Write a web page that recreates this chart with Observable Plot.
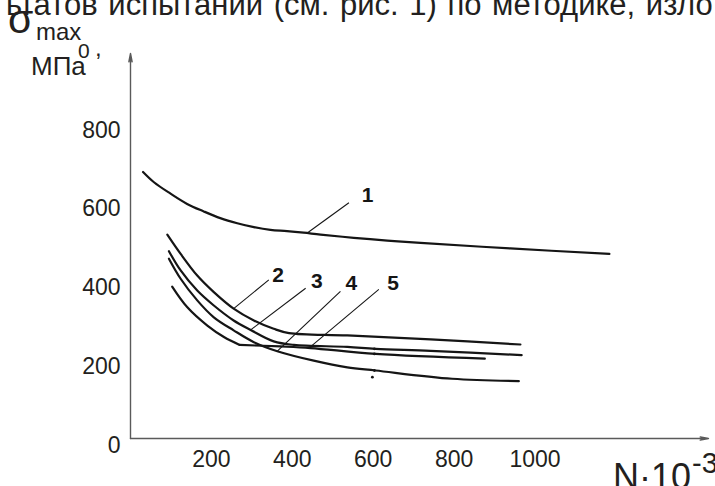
<!DOCTYPE html>
<html>
<head>
<meta charset="utf-8">
<script src="https://cdn.jsdelivr.net/npm/d3@7"></script>
<script src="https://cdn.jsdelivr.net/npm/@observablehq/plot@0.6"></script>
<style>
  body { margin: 0; background: #fff; }
  #chart { width: 715px; height: 486px; overflow: hidden; }
  #chart svg { display: block; }
</style>
</head>
<body>
<div id="chart"></div>
<script>
// Fatigue curves: number of cycles N (×10³) against maximum stress σmax0 (MPa)
const curve1 = [[31,694],[58,668],[99,639],[140,613],[181,594],[222,577],[264,564],[305,554],[346,547],[387,544],[428,540],[470,535],[552,527],[635,520],[717,514],[939,500],[1184,486]];
const curve2 = [[91,535],[124,486],[165,431],[206,389],[255,347],[305,317],[354,296],[392,285],[536,279],[742,269],[964,256]];
const curve3 = [[95,493],[124,444],[165,393],[206,355],[255,317],[297,293],[354,264],[404,255],[536,250],[606,245],[742,240],[967,229]];
const curve4 = [[95,474],[124,423],[165,368],[206,325],[255,292],[305,262],[363,239],[453,215],[536,198],[606,190],[795,169],[960,163]];
// curve 5 falls steeply, then breaks into an almost flat run
const curve5 = [[103,403],[140,351],[190,304],[231,275],[270,255]];
const tail5  = [[270,255],[371,251],[445,247],[606,232],[876,220]];

// test points marked at N = 600
const marks = [[603,245],[603,232],[603,190],[598,173]];

// curve numbers and their leader lines
const labels = [["1",586,634],["2",365,431],["3",461,416],["4",546,411],["5",649,411]];
const leaders = [
  ["1",540,616,437,539],
  ["2",342,420,255,347],
  ["3",433,399,297,293],
  ["4",519,391,363,239],
  ["5",614,396,441,247]
];

const ticksX = [200,400,600,800,1000];
const ticksY = [0,200,400,600,800];
const xDomain = [0,1429];
const yDomain = [17.3,995];

const segments = [
  {seg:"1", pts:curve1}, {seg:"2", pts:curve2}, {seg:"3", pts:curve3},
  {seg:"4", pts:curve4}, {seg:"5", pts:curve5}, {seg:"5b", pts:tail5}
];
const rows = segments.flatMap(d => d.pts.map(([n, s]) => ({seg: d.seg, n, s})));
const markRows = marks.map(([n, s]) => ({n, s}));
const labelRows = labels.map(([text, n, s]) => ({text, n, s}));
const leaderRows = leaders.map(([id, n1, s1, n2, s2]) => ({id, n1, s1, n2, s2}));
const axisLines = [
  {x1: xDomain[0], y1: yDomain[0], x2: xDomain[1], y2: yDomain[0]},
  {x1: xDomain[0], y1: yDomain[0], x2: xDomain[0], y2: yDomain[1]}
];

const font = "Liberation Sans, Arial, sans-serif";

const chart = Plot.plot({
  width: 715,
  height: 486,
  marginLeft: 130,
  marginRight: 7,
  marginTop: 53,
  marginBottom: 48,
  x: {domain: xDomain, label: null},
  y: {domain: yDomain, label: null},
  style: {fontFamily: font, color: "#231f20", background: "#fff", overflow: "hidden"},
  marks: [
    Plot.arrow(axisLines, {x1: "x1", y1: "y1", x2: "x2", y2: "y2", stroke: "#5a5a5a", strokeWidth: 1.4, headLength: 9, headAngle: 22}),
    Plot.axisX(ticksX, {tickSize: 0, tickPadding: 12, fontSize: 23, label: null, tickFormat: d => String(d)}),
    Plot.axisY(ticksY, {tickSize: 0, tickPadding: 10, fontSize: 23, label: null, tickFormat: d => String(d)}),
    Plot.line(rows, {x: "n", y: "s", z: "seg", curve: "catmull-rom", stroke: "#151515", strokeWidth: 2.2}),
    Plot.link(leaderRows, {x1: "n1", y1: "s1", x2: "n2", y2: "s2", stroke: "#151515", strokeWidth: 1.1}),
    Plot.dot(markRows, {x: "n", y: "s", r: 1.4, fill: "#151515"}),
    Plot.text(labelRows, {x: "n", y: "s", text: "text", fontSize: 21, fontWeight: "bold", fill: "#151515"})
  ]
});

document.getElementById("chart").appendChild(chart);

const svg = d3.select(chart);
const addText = (x, y, size, str) =>
  svg.append("text").attr("x", x).attr("y", y).attr("font-size", size)
    .attr("font-family", font).attr("text-anchor", "start")
    .attr("fill", "#231f20").text(str);

// running text of the page above the figure
addText(6, 15, 31, "ьтатов испытаний (см. рис. 1) по методике, изло").attr("word-spacing", 2);

// y-axis title: σmax0, МПа
addText(8, 33, 41, "σ");
addText(36, 40, 24, "max");
addText(78, 58, 21, "0");
addText(95, 56, 24, ",");
addText(31, 75, 26, "МПа");

// x-axis title: N·10^-3
addText(613, 489, 36, "N·10");
addText(692, 473, 29, "-3");
</script>
</body>
</html>
